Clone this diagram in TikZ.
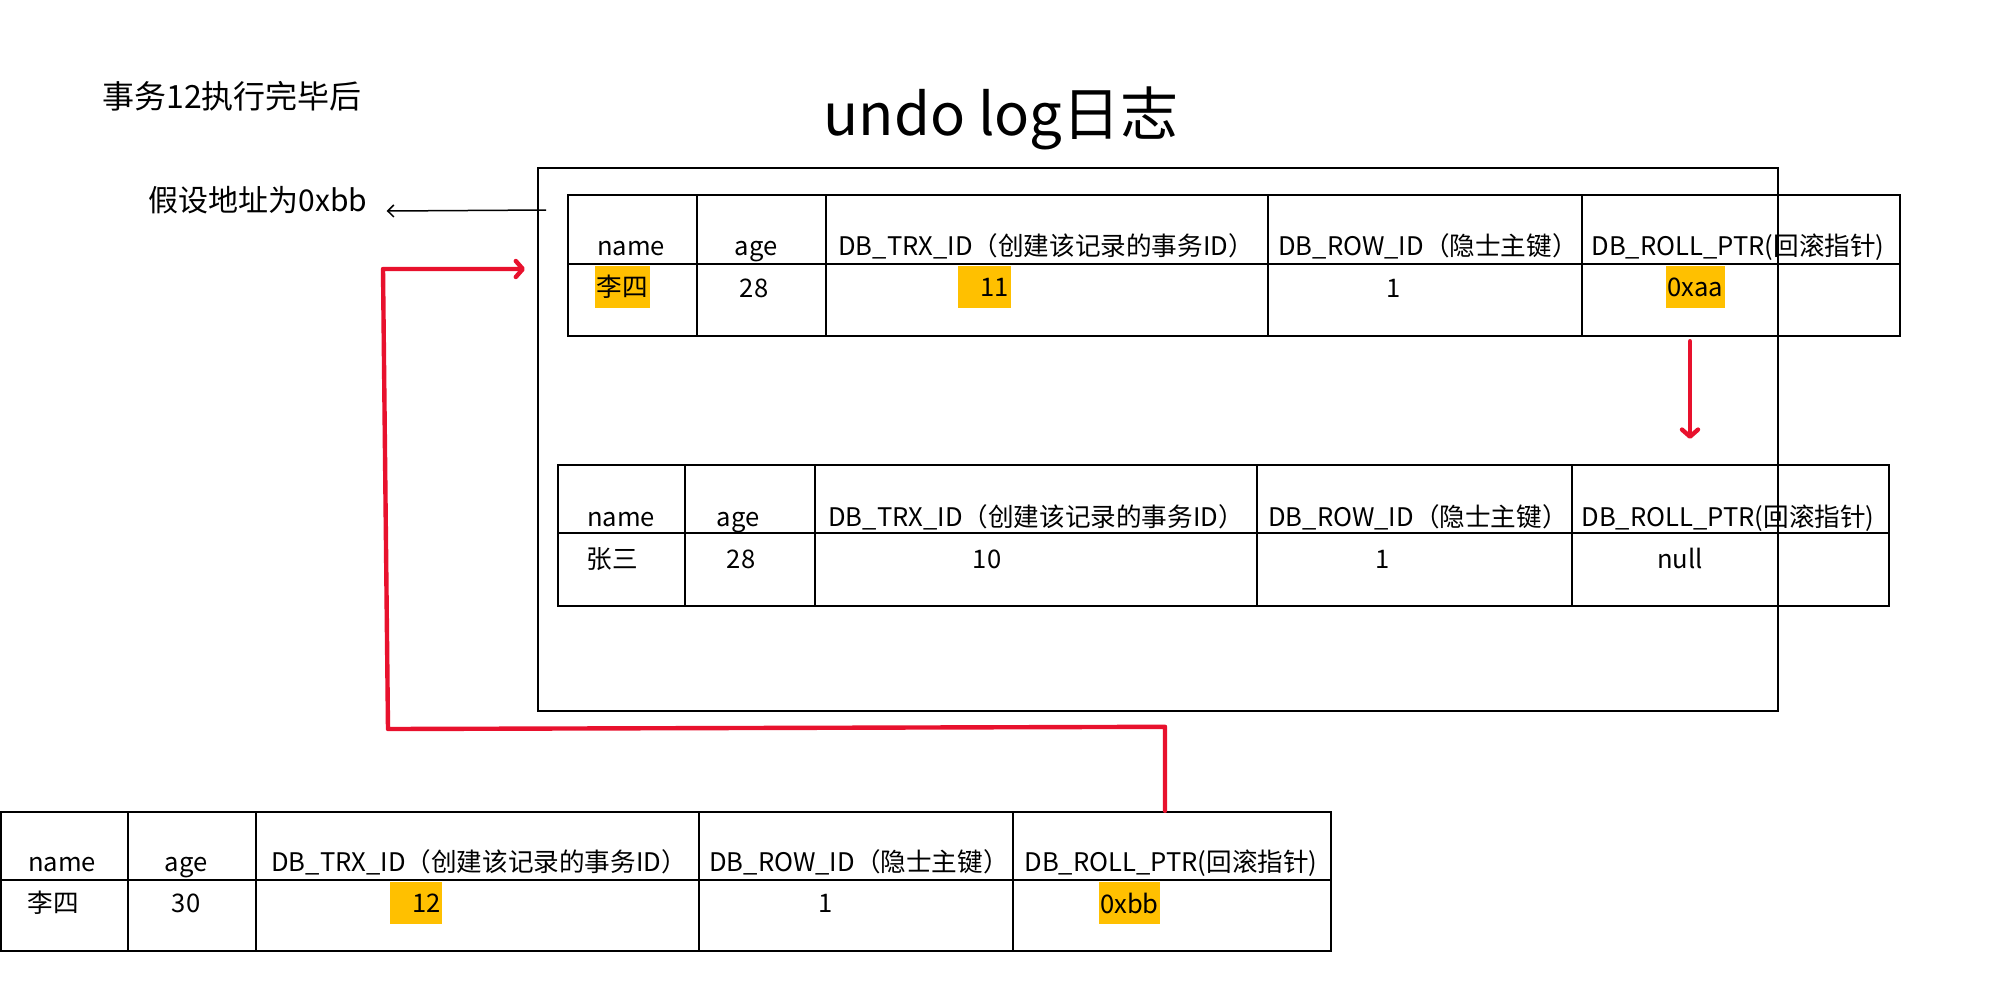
\documentclass[tikz,border=0pt]{standalone}
\usepackage{fontspec}
\setmainfont{Noto Sans CJK SC}
\usepackage{tikz}
\usetikzlibrary{arrows.meta,positioning}
\definecolor{hlyellow}{HTML}{FFC000}
\definecolor{ptrred}{HTML}{E8112D}
\newcommand{\trxcol}{DB\_TRX\_ID（创建该记录的事务ID）}
\newcommand{\rowcol}{DB\_ROW\_ID（隐士主键）}
\newcommand{\rollcol}{DB\_ROLL\_PTR(回滚指针)}

\begin{document}
\begin{tikzpicture}[x=0.5pt,y=-0.5pt,
  cell/.style={draw,line width=1.2pt,inner sep=0pt},
  txt/.style={inner sep=0pt,anchor=base,font=\fontsize{12.8}{15}\selectfont},
  hl/.style={txt,anchor=center,fill=hlyellow,inner xsep=0.8pt,minimum height=21pt},
  lbl/.style={inner sep=0pt,font=\fontsize{15}{18}\selectfont},
  redptr/.style={draw=ptrred,line width=2.2pt,line cap=round,line join=round,
                 -{Straight Barb[length=3.5pt,width=8pt,round]}},
  addrptr/.style={line width=0.75pt,-{Straight Barb[length=3pt,width=6pt]}}]
  \useasboundingbox (0,0) rectangle (2015,998);

  \node[lbl,font=\fontsize{16}{19}\selectfont] (done) at (232,96) {事务12执行完毕后};
  \node[inner sep=0pt,font=\fontsize{29}{35}\selectfont] (title) at (1001,118) {undo log日志};
  \node[lbl] (addr) at (258,200) {假设地址为0xbb};
  \node[draw,line width=1pt,minimum width=620pt,minimum height=271.5pt,inner sep=0pt] (undobox) at (1158,439.5) {};

  % undo log: version written by trx 11
  \foreach \i/\xa/\xb in {1/568/697,2/697/826,3/826/1268,4/1268/1582,5/1582/1900}{
    \node[cell,minimum width=(\xb-\xa)*0.5pt,minimum height=34.5pt] (t1h\i) at ({(\xa+\xb)/2},229.5) {};
    \node[cell,minimum width=(\xb-\xa)*0.5pt,minimum height=36pt] (t1b\i) at ({(\xa+\xb)/2},300) {};
  }
  \foreach \i/\x/\s in {1/631/name,2/756/age,3/1046/\trxcol,4/1428/\rowcol,5/1738/\rollcol}
    \node[txt] (t1l\i) at (\x,255) {\s};
  \node[hl] (t1v1) at (622.5,287) {李四};
  \node[txt] (t1v2) at (754,297) {28};
  \node[hl,text width=24.5pt,align=right] (t1v3) at (984.5,287) {11};
  \node[txt] (t1v4) at (1394,297) {1};
  \node[hl] (t1v5) at (1695.5,287) {0xaa};

  % undo log: version written by trx 10
  \foreach \i/\xa/\xb in {1/558/685,2/685/815,3/815/1257,4/1257/1572,5/1572/1889}{
    \node[cell,minimum width=(\xb-\xa)*0.5pt,minimum height=34pt] (t2h\i) at ({(\xa+\xb)/2},499) {};
    \node[cell,minimum width=(\xb-\xa)*0.5pt,minimum height=36.5pt] (t2b\i) at ({(\xa+\xb)/2},569.5) {};
  }
  \foreach \i/\x/\s in {1/621/name,2/738/age,3/1036/\trxcol,4/1418/\rowcol,5/1728/\rollcol}
    \node[txt] (t2l\i) at (\x,526) {\s};
  \node[txt] (t2v1) at (612,568) {张三};
  \node[txt] (t2v2) at (741,568) {28};
  \node[txt] (t2v3) at (987,568) {10};
  \node[txt] (t2v4) at (1383,568) {1};
  \node[txt] (t2v5) at (1680,568) {null};

  % current row after trx 12
  \foreach \i/\xa/\xb in {1/1/128,2/128/256,3/256/699,4/699/1013,5/1013/1331}{
    \node[cell,minimum width=(\xb-\xa)*0.5pt,minimum height=34pt] (t3h\i) at ({(\xa+\xb)/2},846) {};
    \node[cell,minimum width=(\xb-\xa)*0.5pt,minimum height=35.5pt] (t3b\i) at ({(\xa+\xb)/2},915.5) {};
  }
  \foreach \i/\x/\s in {1/62/name,2/186/age,3/479/\trxcol,4/859/\rowcol,5/1171/\rollcol}
    \node[txt] (t3l\i) at (\x,871) {\s};
  \node[txt] (t3v1) at (53,912) {李四};
  \node[txt] (t3v2) at (186,912) {30};
  \node[hl,text width=24.5pt,align=right] (t3v3) at (416,903) {12};
  \node[txt] (t3v4) at (826,912) {1};
  \node[hl] (t3v5) at (1129.5,903) {0xbb};

  % pointers
  \coordinate (bbhead) at (525,269);
  \draw[addrptr] ([xshift=4.5pt,yshift=-21.5pt]undobox.north west) -- ([xshift=9.5pt,yshift=-5.5pt]addr.east);
  \draw[redptr] ([xshift=-3.5pt]t3h5.north) -- ++(0,-84) -- (388,729) -- (383,269) -- (bbhead);
  \draw[redptr] ([xshift=-25.5pt,yshift=-2pt]t1b5.south) -- ([xshift=-20.25pt,yshift=12.5pt]t2h5.north);
\end{tikzpicture}
\end{document}
